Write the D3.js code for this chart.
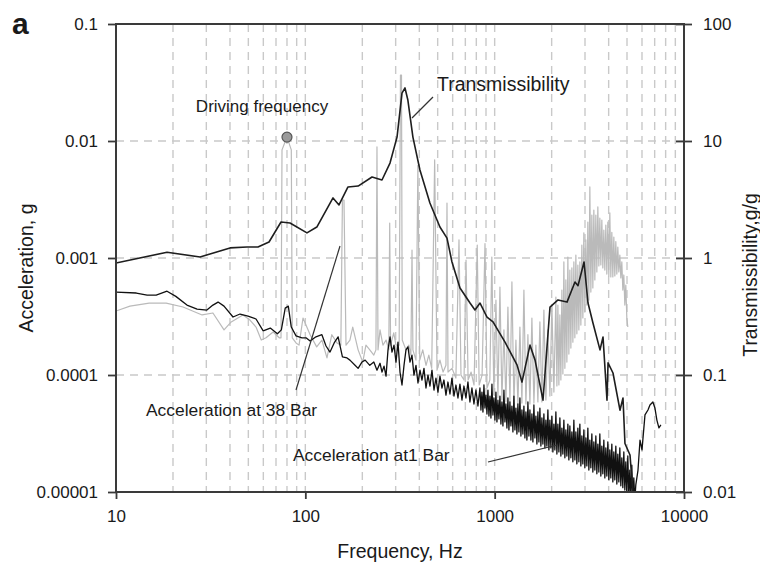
<!DOCTYPE html>
<html>
<head>
<meta charset="utf-8">
<script src="https://cdn.jsdelivr.net/npm/d3@7"></script>
<style>
  html, body { margin: 0; padding: 0; background: #fff; }
  svg { display: block; }
  text { font-family: "Liberation Sans", Arial, Helvetica, sans-serif; fill: #1a1a1a; }
</style>
</head>
<body>
<svg id="chart" width="760" height="563"></svg>
<script>
// ---- Tick values and labels ----
const freqTicks = [10, 100, 1000, 10000];
const freqTickLabels = ["10", "100", "1000", "10000"];
const accTicks = [0.1, 0.01, 0.001, 0.0001, 0.00001];
const accTickLabels = ["0.1", "0.01", "0.001", "0.0001", "0.00001"];
const transTicks = [100, 10, 1, 0.1, 0.01];
const transTickLabels = ["100", "10", "1", "0.1", "0.01"];

// ---- Driving frequency point ----
const drivingFreq = 80;
const drivingAcc = 0.0108;

// ---- Acceleration at 38 Bar (g) ----
const bar38Freq = [10, 11.85, 14.96, 18.4, 22.6, 28.5, 32.5, 37.2, 40.6, 46.8, 51.0, 54.9, 58.5, 62.0, 67.6, 72.8, 74.4, 75.3,
  drivingFreq, 84.3, 85.3, 89.3, 92.6, 97.2, 106, 114.8, 122.3, 130.1, 138, 147, 154, 157, 160, 164, 172, 178, 190, 201, 209,
  219, 230, 236, 239, 242, 248, 257, 267, 276, 279, 282, 293, 301, 313, 318, 322, 325, 340, 352, 361, 366, 370, 384, 393, 402,
  417, 434, 449, 465, 482, 496, 514, 534, 553, 560, 567, 595, 624, 648, 664, 689, 706, 724, 751, 778, 809, 828, 858, 889, 911,
  943, 966, 990,
  1015.5, 1040.5, 1066.1, 1092.3, 1119.2, 1146.7, 1174.9, 1203.8, 1233.4, 1263.8,
  1294.9, 1326.7, 1359.4, 1392.8, 1427.1, 1462.2, 1498.2, 1535.0, 1572.8, 1611.5,
  1651.1, 1691.7, 1733.3, 1776.0, 1819.7, 1864.4, 1910.3, 1957.3, 2005.4, 2054.8,
  2105.3, 2131.1, 2157.1, 2183.5, 2210.2, 2237.2, 2264.5, 2292.2, 2320.2, 2348.6,
  2377.3, 2406.4, 2435.8, 2465.6, 2495.7, 2526.2, 2557.1, 2588.4, 2620.0, 2652.1,
  2684.5, 2717.4, 2750.5, 2784.2, 2818.2, 2852.7, 2887.5, 2922.8, 2958.5, 2994.7,
  3031.3, 3068.4, 3105.9, 3143.9, 3182.3, 3221.3, 3260.6, 3300.5, 3340.8, 3381.7,
  3423.0, 3464.9, 3507.2, 3550.1, 3593.4, 3637.4, 3681.8, 3726.9, 3772.4, 3818.6,
  3865.2, 3912.5, 3960.3, 4008.8, 4057.7, 4107.4, 4157.5, 4208.4, 4259.8, 4312.0,
  4364.6, 4418.0, 4472.0, 4526.7, 4582.0, 4638.1, 4694.7, 4752.2, 4810.2, 4869.1,
  4928.5, 4988.8, 5049.7];
const bar38Acc = [3.52e-4, 3.88e-4, 4.12e-4, 4.12e-4, 3.81e-4, 3.26e-4, 3.39e-4, 2.43e-4, 2.84e-4, 3.26e-4, 2.95e-4, 2.57e-4,
  1.99e-4, 2.08e-4, 2.33e-4, 2.08e-4, 2.08e-4, 8.4e-3, drivingAcc, 8.4e-3, 2.08e-4, 1.88e-4, 1.80e-4, 3.07e-4, 2.21e-4,
  1.74e-4, 1.99e-4, 1.40e-4, 2.21e-4, 1.88e-4, 1.80e-4, 3.13e-3, 3.13e-3, 1.80e-4, 1.99e-4, 2.57e-4, 1.64e-4, 1.29e-4,
  1.80e-4, 1.64e-4, 1.48e-4, 1.64e-4, 8.9e-3, 1.64e-4, 2.43e-4, 1.80e-4, 1.99e-4, 1.64e-4, 1.99e-3, 1.80e-4, 2.29e-4,
  1.80e-4, 1.80e-4, 3.66e-2, 3.66e-2, 1.99e-4, 1.64e-4, 1.80e-4, 1.48e-4, 1.17e-3, 1.64e-4, 1.34e-4, 6.2e-3, 1.34e-4,
  1.64e-4, 1.21e-4, 1.48e-4, 1.14e-4, 6.9e-3, 1.10e-4, 1.34e-4, 1.06e-4, 1.21e-4, 2.95e-3, 1.06e-4, 1.14e-4, 9.41e-5,
  1.43e-3, 9.97e-5, 9.06e-5, 9.6e-4, 9.06e-5, 1.06e-4, 8.21e-5, 1.29e-3, 8.21e-5, 9.97e-5, 1.33e-3, 7.74e-5, 9.06e-5,
  1.02e-3, 6.75e-5,
  4.37e-4, 6.36e-5, 5.65e-4, 6.11e-5, 2.43e-4, 5.88e-5, 3.81e-4, 5.88e-5, 6.24e-4, 5.65e-5,
  1.99e-4, 5.65e-5, 2.57e-4, 5.76e-5, 5.32e-4, 5.65e-5, 2.21e-4, 5.65e-5, 3.07e-4, 5.76e-5,
  1.80e-4, 5.88e-5, 2.84e-4, 5.88e-5, 3.59e-4, 6.11e-5, 2.43e-4, 6.61e-5, 3.96e-4, 7.15e-5,
  4.64e-4, 8.05e-5, 3.96e-4, 8.21e-5, 3.26e-4, 9.06e-5, 5.32e-4, 1.02e-4, 9.25e-4, 1.14e-4,
  6.49e-4, 1.29e-4, 1.02e-3, 1.51e-4, 7.89e-4, 1.70e-4, 8.22e-4, 1.91e-4, 9.25e-4, 2.08e-4,
  1.06e-3, 2.25e-4, 8.71e-4, 2.43e-4, 9.25e-4, 2.67e-4, 1.29e-3, 3.07e-4, 1.64e-3, 3.45e-4,
  1.43e-3, 3.96e-4, 2.03e-3, 4.37e-4, 4.05e-3, 5.11e-4, 2.33e-3, 5.54e-4, 2.57e-3, 6.49e-4,
  2.33e-3, 7.59e-4, 2.73e-3, 8.54e-4, 2.19e-3, 8.71e-4, 2.11e-3, 8.22e-4, 1.73e-3, 7.89e-4,
  1.91e-3, 7.29e-4, 2.03e-3, 7.02e-4, 2.43e-3, 6.89e-4, 1.66e-3, 6.89e-4, 1.51e-3, 7.02e-4,
  1.38e-3, 7.29e-4, 1.24e-3, 7.59e-4, 1.06e-3, 6.76e-4, 9.25e-4, 5.32e-4, 7.16e-4, 3.96e-4,
  5.88e-4, 3.07e-4, 2.57e-4];

// ---- Acceleration at 1 Bar (g) ----
const bar1Freq = [
  10, 12.8, 14.6, 16.3, 18.6, 20.7, 23.7, 26.8, 30.2, 32.5,
  34.6, 37.2, 41.5, 45.2, 49.8, 54.9, 59.9, 65.3, 71.2, 74.7,
  78.3, 81.3, 84.3, 89.3, 96, 100.8, 106, 113.8, 122.3, 128.6,
  135, 142, 149, 157, 166, 172, 183, 190, 199, 207,
  219, 230, 239,
  248, 254.1, 260.4, 266.8, 273.3, 280.1, 286.9, 294.0, 301.2, 308.6,
  316.2, 324.0, 332.0, 340.1, 348.5, 357.1, 365.8, 374.8, 384.1, 393.5,
  403.2, 413.1, 423.3, 433.7, 444.4, 455.3, 466.5, 478.0, 489.7, 501.8,
  514.1, 526.8, 539.7, 553.0, 566.6, 580.6, 594.9, 609.5, 624.5, 639.9,
  655.6, 671.7, 688.3, 705.2, 722.5, 740.3, 758.5, 777.2, 796.3, 815.9,
  836, 846.2, 856.6, 867.1, 877.7, 888.4, 899.3, 910.3, 921.4, 932.7,
  944.1, 955.7, 967.3, 979.1, 991.1, 1003.2, 1015.5, 1027.9, 1040.5, 1053.2,
  1066.1, 1079.1, 1092.3, 1105.7, 1119.2, 1132.9, 1146.7, 1160.7, 1174.9, 1189.3,
  1203.8, 1218.5, 1233.4, 1248.5, 1263.8, 1279.3, 1294.9, 1310.8, 1326.7, 1342.9,
  1359.4, 1376.0, 1392.8, 1409.8, 1427.1, 1444.6, 1462.2, 1480.1, 1498.2, 1516.5,
  1535.0, 1553.8, 1572.8, 1592.1, 1611.5, 1631.2, 1651.1, 1671.3, 1691.7, 1712.4,
  1733.3, 1754.5, 1776.0, 1797.7, 1819.7, 1842.0, 1864.4, 1887.2, 1910.3, 1933.7,
  1957.3, 1981.3, 2005.4, 2029.9, 2054.8, 2080.0, 2105.3, 2131.1, 2157.1, 2183.5,
  2210.2, 2237.2, 2264.5, 2292.2, 2320.2, 2348.6, 2377.3, 2406.4, 2435.8, 2465.6,
  2495.7, 2526.2, 2557.1, 2588.4, 2620.0, 2652.1, 2684.5, 2717.4, 2750.5, 2784.2,
  2818.2, 2852.7, 2887.5, 2922.8, 2958.5, 2994.7, 3031.3, 3068.4, 3105.9, 3143.9,
  3182.3, 3221.3, 3260.6, 3300.5, 3340.8, 3381.7, 3423.0, 3464.9, 3507.2, 3550.1,
  3593.4, 3637.4, 3681.8, 3726.9, 3772.4, 3818.6, 3865.2, 3912.5, 3960.3, 4008.8,
  4057.7, 4107.4, 4157.5, 4208.4, 4259.8, 4312.0, 4364.6, 4418.0, 4472.0, 4526.7,
  4582.0, 4638.1, 4694.7, 4752.2, 4810.2, 4869.1, 4928.5, 4988.8, 5049.7, 5111.5,
  5173.9, 5237.2, 5301.2, 5366.1, 5431.6, 5498.1, 5565.2,
  5716, 5857, 6000, 6222, 6452, 6610, 6850, 7020, 7190, 7370, 7550];
const bar1Acc = [
  5.11e-4, 5.02e-4, 4.82e-4, 4.82e-4, 5.2e-4, 4.7e-4, 3.96e-4, 3.66e-4, 3.59e-4, 3.96e-4,
  4.2e-4, 3.88e-4, 3.13e-4, 3.32e-4, 3.19e-4, 3.01e-4, 2.38e-4, 2.52e-4, 2.25e-4, 2.43e-4,
  3.73e-4, 3.88e-4, 2.57e-4, 2.16e-4, 2.08e-4, 2.08e-4, 1.95e-4, 2.12e-4, 2.21e-4, 1.77e-4,
  1.57e-4, 1.88e-4, 2.12e-4, 1.43e-4, 1.40e-4, 1.34e-4, 1.21e-4, 1.14e-4, 1.29e-4, 1.34e-4,
  1.21e-4, 1.29e-4, 1.10e-4,
  1.26e-4, 1.06e-4, 1.19e-4, 9.78e-5, 1.64e-4, 2.12e-4, 1.57e-4, 1.80e-4, 1.29e-4, 1.91e-4,
  1.06e-4, 8.21e-5, 1.21e-4, 1.64e-4, 1.74e-4, 1.29e-4, 1.48e-4, 9.97e-5, 1.21e-4, 8.54e-5,
  1.10e-4, 9.06e-5, 1.14e-4, 7.74e-5, 9.97e-5, 8.05e-5, 1.10e-4, 7.44e-5, 9.41e-5, 7.15e-5,
  9.78e-5, 7.74e-5, 9.06e-5, 6.74e-5, 8.71e-5, 6.88e-5, 9.41e-5, 6.61e-5, 8.21e-5, 6.36e-5,
  8.37e-5, 6.11e-5, 8.05e-5, 6.36e-5, 8.71e-5, 5.88e-5, 7.74e-5, 5.65e-5, 7.44e-5, 5.43e-5,
  7.74e-5, 5.02e-5, 7.15e-5, 4.83e-5, 8.21e-5, 5.22e-5, 6.74e-5, 4.64e-5, 7.44e-5, 4.46e-5,
  6.61e-5, 4.29e-5, 8.37e-5, 4.55e-5, 6.36e-5, 4.12e-5, 7.15e-5, 3.97e-5, 6.11e-5, 4.21e-5,
  6.61e-5, 3.81e-5, 5.88e-5, 3.67e-5, 7.44e-5, 3.97e-5, 5.65e-5, 3.52e-5, 6.36e-5, 3.39e-5,
  5.88e-5, 3.67e-5, 5.43e-5, 3.26e-5, 6.61e-5, 3.39e-5, 5.22e-5, 3.13e-5, 5.65e-5, 3.26e-5,
  6.36e-5, 3.01e-5, 5.02e-5, 3.13e-5, 5.43e-5, 2.90e-5, 4.83e-5, 2.78e-5, 5.88e-5, 3.01e-5,
  5.02e-5, 2.78e-5, 4.64e-5, 2.68e-5, 5.54e-5, 2.90e-5, 4.46e-5, 2.57e-5, 4.83e-5, 2.68e-5,
  5.22e-5, 2.47e-5, 4.29e-5, 2.57e-5, 4.64e-5, 2.38e-5, 4.12e-5, 2.47e-5, 5.02e-5, 2.29e-5,
  4.12e-5, 2.38e-5, 4.46e-5, 2.20e-5, 3.81e-5, 2.29e-5, 4.83e-5, 2.11e-5, 3.81e-5, 2.20e-5,
  4.29e-5, 2.03e-5, 3.52e-5, 2.11e-5, 4.12e-5, 1.96e-5, 3.39e-5, 2.03e-5, 3.81e-5, 1.88e-5,
  3.67e-5, 1.96e-5, 3.26e-5, 1.81e-5, 4.12e-5, 1.88e-5, 3.26e-5, 1.74e-5, 3.52e-5, 1.81e-5,
  3.81e-5, 1.67e-5, 3.01e-5, 1.74e-5, 3.39e-5, 1.61e-5, 2.90e-5, 1.67e-5, 3.52e-5, 1.54e-5,
  2.78e-5, 1.61e-5, 3.13e-5, 1.48e-5, 2.68e-5, 1.54e-5, 3.01e-5, 1.43e-5, 2.57e-5, 1.48e-5,
  3.13e-5, 1.37e-5, 2.47e-5, 1.43e-5, 2.78e-5, 1.32e-5, 2.38e-5, 1.37e-5, 2.68e-5, 1.27e-5,
  2.29e-5, 1.32e-5, 2.57e-5, 1.22e-5, 2.20e-5, 1.27e-5, 2.47e-5, 1.17e-5, 2.11e-5, 1.22e-5,
  2.38e-5, 1.13e-5, 1.96e-5, 1.09e-5, 2.20e-5, 1.04e-5, 1.81e-5, 9.6e-6, 2.03e-5, 9.2e-6,
  1.54e-5, 8.85e-6, 1.70e-5, 8.5e-6, 1.32e-5, 8.5e-6, 1.15e-5,
  1.54e-5, 2.78e-5, 2.29e-5, 4.56e-5, 5.02e-5, 5.55e-5, 5.88e-5, 5.23e-5, 4.12e-5, 3.53e-5, 3.74e-5];

// ---- Transmissibility (g/g) ----
const transFreq = [10, 18.6, 27.8, 40, 49.2, 56.2, 64.3, 74.4, 83, 102, 115, 140, 150.6, 168, 190, 225, 254, 280, 305, 324,
  336, 348, 370, 403, 455, 514, 560, 595, 656, 741, 787, 837, 911, 980, 1134, 1312, 1394, 1537, 1634, 1800, 1960, 2160,
  2410, 2656, 2755, 2965, 3112, 3305, 3600, 3735, 3920, 3970, 4217, 4590, 4762, 4877, 5186, 5380];
const transVal = [0.906, 1.12, 1.02, 1.22, 1.24, 1.24, 1.37, 2.03, 1.99, 1.64, 1.84, 3.26, 2.84, 4.05, 4.12, 4.92, 4.64,
  6.48, 10.8, 25.7, 28.4, 22.4, 10.8, 5.65, 2.95, 1.84, 1.48, 0.924, 0.554, 0.412, 0.36, 0.412, 0.313, 0.284, 0.191, 0.122,
  0.087, 0.180, 0.134, 0.061, 0.381, 0.438, 0.42, 0.624, 0.58, 0.924, 0.412, 0.278, 0.164, 0.211, 0.061, 0.127, 0.104,
  0.050, 0.0636, 0.026, 0.0207, 0.0095];

// ---- Layout ----
const svg = d3.select("#chart");
const plotLeft = 116, plotRight = 684, plotTop = 24, plotBottom = 492;

const x = d3.scaleLog().domain([10, 10000]).range([plotLeft, plotRight]);
const yAcc = d3.scaleLog().domain([0.00001, 0.1]).range([plotBottom, plotTop]);
const yTrans = d3.scaleLog().domain([0.01, 100]).range([plotBottom, plotTop]);

svg.append("defs").append("clipPath").attr("id", "plotClip")
  .append("rect").attr("x", plotLeft).attr("y", plotTop)
  .attr("width", plotRight - plotLeft).attr("height", plotBottom - plotTop);

// Dashed grid: every 1..9 step of each decade vertically, decades horizontally
const grid = svg.append("g").attr("stroke", "#c9c9c9").attr("stroke-width", 1.4)
  .attr("stroke-dasharray", "8,6");
const minorFreqs = [];
[10, 100, 1000].forEach(d => { for (let k = 1; k <= 9; k++) minorFreqs.push(k * d); });
grid.selectAll("line.v").data(minorFreqs.filter(f => f > 10)).join("line")
  .attr("class", "v")
  .attr("x1", d => x(d)).attr("x2", d => x(d))
  .attr("y1", plotTop).attr("y2", plotBottom);
grid.selectAll("line.h").data([0.01, 0.001, 0.0001]).join("line")
  .attr("class", "h")
  .attr("x1", plotLeft).attr("x2", plotRight)
  .attr("y1", d => yAcc(d)).attr("y2", d => yAcc(d));

// ---- Series ----
const plot = svg.append("g").attr("clip-path", "url(#plotClip)");

const accLine = d3.line().x(d => x(d[0])).y(d => yAcc(d[1]));
const transLine = d3.line().x(d => x(d[0])).y(d => yTrans(d[1]));

plot.append("path")
  .datum(d3.zip(bar38Freq, bar38Acc))
  .attr("fill", "none").attr("stroke", "#bababa").attr("stroke-width", 1.2)
  .attr("stroke-linejoin", "round")
  .attr("d", accLine);

plot.append("path")
  .datum(d3.zip(bar1Freq, bar1Acc))
  .attr("fill", "none").attr("stroke", "#111").attr("stroke-width", 1.3)
  .attr("stroke-linejoin", "round")
  .attr("d", accLine);

plot.append("path")
  .datum(d3.zip(transFreq, transVal))
  .attr("fill", "none").attr("stroke", "#1e1e1e").attr("stroke-width", 1.6)
  .attr("stroke-linejoin", "round")
  .attr("d", transLine);

// Driving frequency marker
svg.append("circle")
  .attr("cx", x(drivingFreq)).attr("cy", yAcc(drivingAcc)).attr("r", 5)
  .attr("fill", "#9a9a9a").attr("stroke", "#555").attr("stroke-width", 1.2);

// ---- Axes ----
const axisColor = "#3a3a3a";
const tickFont = 17;

const gx = svg.append("g").attr("transform", `translate(0,${plotBottom})`)
  .call(d3.axisBottom(x).tickValues(freqTicks).tickFormat((d, i) => freqTickLabels[i])
    .tickSize(7).tickPadding(11));
const gl = svg.append("g").attr("transform", `translate(${plotLeft},0)`)
  .call(d3.axisLeft(yAcc).tickValues(accTicks).tickFormat((d, i) => accTickLabels[i])
    .tickSize(8).tickPadding(10));
const gr = svg.append("g").attr("transform", `translate(${plotRight},0)`)
  .call(d3.axisRight(yTrans).tickValues(transTicks).tickFormat((d, i) => transTickLabels[i])
    .tickSize(8).tickPadding(11));
gr.selectAll(".tick line").attr("x1", -8).attr("x2", 8);

[gx, gl, gr].forEach(g => {
  g.select(".domain").remove();
  g.selectAll(".tick line").attr("stroke", axisColor).attr("stroke-width", 1.8);
  g.selectAll(".tick text").attr("font-size", tickFont)
    .attr("font-family", "'Liberation Sans', Arial, sans-serif").attr("fill", "#1a1a1a");
});

// Frame
svg.append("rect").attr("x", plotLeft).attr("y", plotTop)
  .attr("width", plotRight - plotLeft).attr("height", plotBottom - plotTop)
  .attr("fill", "none").attr("stroke", axisColor).attr("stroke-width", 2);

// ---- Axis titles ----
svg.append("text").attr("x", 400).attr("y", 558).attr("text-anchor", "middle")
  .attr("font-size", 19.5).text("Frequency, Hz");
svg.append("text").attr("transform", "translate(33,268) rotate(-90)").attr("text-anchor", "middle")
  .attr("font-size", 19.5).text("Acceleration, g");
svg.append("text").attr("transform", "translate(757,275) rotate(-90)").attr("text-anchor", "middle")
  .attr("font-size", 19.5).text("Transmissibility,g/g");

// Panel letter
svg.append("text").attr("x", 12).attr("y", 34).attr("font-size", 30).attr("font-weight", "bold")
  .text("a");

// ---- Annotations ----
const leader = svg.append("g").attr("stroke", "#333").attr("stroke-width", 1.2);
svg.append("text").attr("x", 262).attr("y", 112).attr("text-anchor", "middle")
  .attr("font-size", 17).text("Driving frequency");

svg.append("text").attr("x", 437).attr("y", 91).attr("font-size", 19.5).text("Transmissibility");
leader.append("line").attr("x1", 433).attr("y1", 97).attr("x2", 412).attr("y2", 118);

svg.append("text").attr("x", 146).attr("y", 416).attr("font-size", 17.4).text("Acceleration at 38 Bar");
leader.append("line").attr("x1", 296).attr("y1", 390).attr("x2", 340).attr("y2", 246);

svg.append("text").attr("x", 293).attr("y", 461).attr("font-size", 17.4).text("Acceleration at1 Bar");
leader.append("line").attr("x1", 488).attr("y1", 462).attr("x2", 557).attr("y2", 445);
</script>
</body>
</html>
